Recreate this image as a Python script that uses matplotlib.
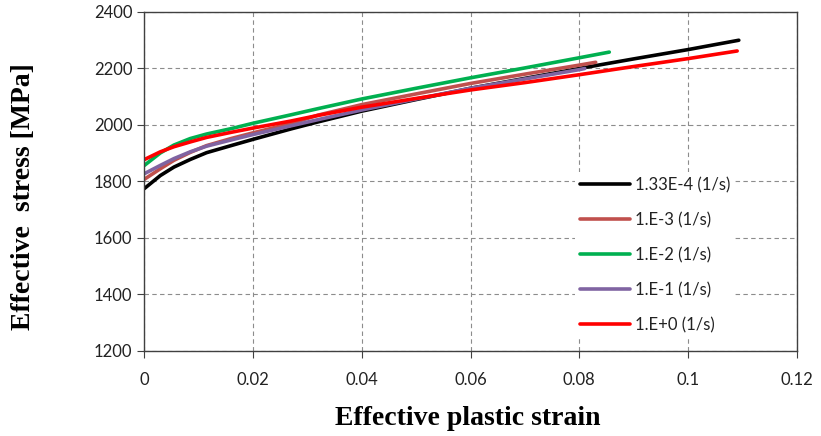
import numpy as np
import matplotlib.pyplot as plt

# effective plastic strain / effective stress [MPa]
strain_a = [0, 0.003, 0.0055, 0.0085, 0.0115, 0.016, 0.02, 0.027, 0.032,
            0.04, 0.05, 0.06, 0.07, 0.08, 0.09, 0.1, 0.1093]
stress_a = [1774, 1821, 1851, 1878, 1902, 1927, 1949, 1986, 2011,
            2049, 2090, 2130, 2165, 2200, 2234, 2267, 2300]

strain_b = [0, 0.003, 0.0055, 0.0085, 0.0115, 0.016, 0.02, 0.027, 0.032,
            0.04, 0.05, 0.06, 0.07, 0.08, 0.083]
stress_b = [1807, 1845, 1875, 1903, 1927, 1952, 1972, 2005, 2035,
            2072, 2110, 2147, 2180, 2212, 2222]

strain_c = [0, 0.003, 0.0055, 0.0085, 0.0115, 0.016, 0.02, 0.027, 0.032,
            0.04, 0.05, 0.06, 0.07, 0.08, 0.0855]
stress_c = [1856, 1901, 1929, 1952, 1968, 1987, 2006, 2036, 2058,
            2092, 2130, 2167, 2202, 2238, 2258]

strain_d = [0, 0.003, 0.0055, 0.0085, 0.0115, 0.016, 0.02, 0.027, 0.032,
            0.04, 0.05, 0.06, 0.07, 0.08, 0.081]
stress_d = [1827, 1857, 1881, 1905, 1925, 1947, 1966, 1997, 2019,
            2053, 2092, 2130, 2163, 2196, 2200]

strain_e = [0, 0.003, 0.0055, 0.0085, 0.0115, 0.016, 0.02, 0.027, 0.032,
            0.04, 0.05, 0.06, 0.07, 0.08, 0.09, 0.1, 0.109]
stress_e = [1877, 1905, 1923, 1940, 1956, 1974, 1989, 2014, 2034,
            2063, 2094, 2124, 2150, 2178, 2207, 2235, 2262]

labels = ['1.33E-4 (1/s)', '1.E-3 (1/s)', '1.E-2 (1/s)', '1.E-1 (1/s)', '1.E+0 (1/s)']
colors = ['#000000', '#C0504D', '#00B050', '#8064A2', '#FF0000']

series = [(strain_a, stress_a), (strain_b, stress_b), (strain_c, stress_c),
          (strain_d, stress_d), (strain_e, stress_e)]

fig = plt.figure(figsize=(8.21, 4.36), dpi=100)
ax = fig.add_axes([0.1754, 0.195, 0.7954, 0.7775])

for (x, y), lab, c in zip(series, labels, colors):
    ax.plot(x, y, color=c, linewidth=2.6, label=lab,
            solid_capstyle='round', solid_joinstyle='round')

ax.set_xlim(0, 0.12)
ax.set_ylim(1200, 2400)
ax.set_xticks(np.arange(0, 0.121, 0.02))
ax.set_xticklabels(['0', '0.02', '0.04', '0.06', '0.08', '0.1', '0.12'])
ax.set_yticks(np.arange(1200, 2401, 200))

ax.grid(True, color='#8c8c8c', linestyle=(0, (4, 3)), linewidth=0.8)
ax.set_axisbelow(True)
for s in ax.spines.values():
    s.set_color('#404040')
    s.set_linewidth(1.0)
ax.tick_params(direction='out', length=5, color='#404040', labelsize=12,
               labelcolor='#222222')
ax.tick_params(axis='x', pad=10)
for t in ax.get_xticklabels() + ax.get_yticklabels():
    t.set_family('Lato')

ax.set_xlabel('Effective plastic strain', fontsize=20, fontweight='bold',
              family='Liberation Serif')
ax.set_ylabel('Effective  stress [MPa]', fontsize=20, fontweight='bold',
              family='Liberation Serif')
ax.xaxis.set_label_coords(0.496, -0.163)
ax.yaxis.set_label_coords(-0.165, 0.454)

leg = ax.legend(loc='upper left', bbox_to_anchor=(0.647, 0.552), frameon=True,
                facecolor='white', edgecolor='none', framealpha=1, fancybox=False,
                handlelength=3.0, handletextpad=0.3, labelspacing=1.13,
                borderpad=0.3, prop={'family': 'Lato', 'size': 12})
for t in leg.get_texts():
    t.set_color('#222222')

fig.savefig('out.png', dpi=100)
